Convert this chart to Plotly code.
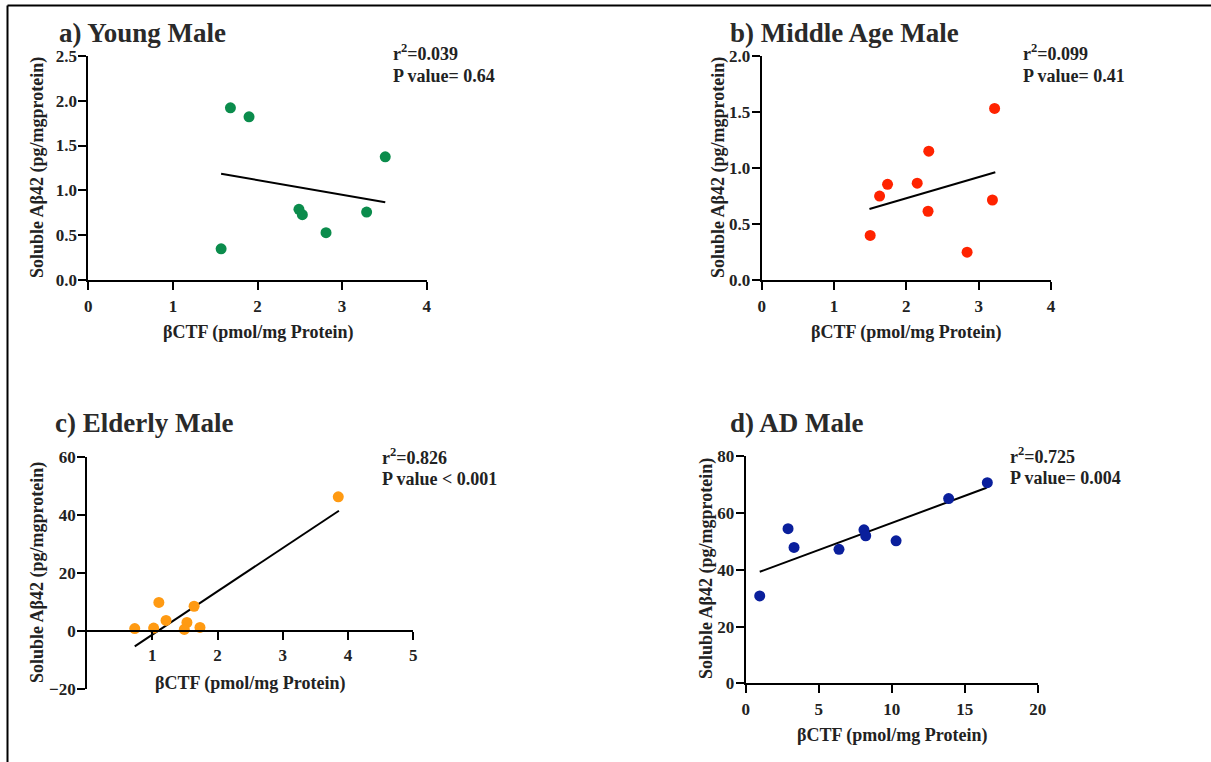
import plotly.graph_objects as go

W, H = 1211, 762

# ---------------- data ----------------
titles = ["a) Young Male", "b) Middle Age Male", "c) Elderly Male", "d) AD Male"]
stats_r2 = ["0.039", "0.099", "0.826", "0.725"]
stats_p = ["P value= 0.64", "P value= 0.41", "P value < 0.001", "P value= 0.004"]

young_x = [1.68, 1.90, 3.51, 2.49, 2.53, 3.29, 2.81, 1.57]
young_y = [1.92, 1.82, 1.375, 0.79, 0.73, 0.76, 0.53, 0.35]
young_fit_x = [1.57, 3.51]
young_fit_y = [1.186, 0.868]

middle_x = [3.22, 2.31, 1.74, 1.63, 2.15, 2.30, 3.19, 1.50, 2.84]
middle_y = [1.53, 1.15, 0.855, 0.75, 0.865, 0.615, 0.715, 0.40, 0.25]
middle_fit_x = [1.49, 3.23]
middle_fit_y = [0.635, 0.962]

elderly_x = [3.85, 1.10, 1.64, 1.21, 1.53, 0.73, 1.02, 1.49, 1.73]
elderly_y = [46.3, 9.9, 8.6, 3.7, 3.0, 0.9, 1.1, 0.6, 1.3]
elderly_fit_x = [0.73, 3.86]
elderly_fit_y = [-5.2, 41.5]

ad_x = [16.55, 13.9, 2.9, 8.1, 8.22, 10.3, 3.31, 6.39, 0.96]
ad_y = [70.7, 65.1, 54.5, 54.1, 52.0, 50.2, 47.9, 47.2, 30.8]
ad_fit_x = [0.96, 16.5]
ad_fit_y = [39.3, 68.9]

x_label = "βCTF (pmol/mg Protein)"
y_label = "Soluble Aβ42 (pg/mgprotein)"

# ---------------- layout helpers ----------------
def px(x):
    return x / W

def py(y):
    return 1 - y / H

FONT = "Liberation Serif"
TXT = "#222222"

panels = [
    dict(x=young_x, y=young_y, fx=young_fit_x, fy=young_fit_y, color="#0b8c4c",
         xd=(88.3, 426.7), yd=(55.7, 280.3), xr=[0, 4], yr=[0, 2.5],
         xt=[0, 1, 2, 3, 4], yt=[0, 0.5, 1.0, 1.5, 2.0, 2.5], yfmt=".1f", xaxis_at=None,
         title_pos=(57, 33), stat_pos=(391, 53), xlab=(258, 332), ylab=(37, 168)),
    dict(x=middle_x, y=middle_y, fx=middle_fit_x, fy=middle_fit_y, color="#ff2300",
         xd=(761.7, 1051), yd=(55.7, 280.3), xr=[0, 4], yr=[0, 2.0],
         xt=[0, 1, 2, 3, 4], yt=[0, 0.5, 1.0, 1.5, 2.0], yfmt=".1f", xaxis_at=None,
         title_pos=(728, 33), stat_pos=(1021, 53), xlab=(906, 332), ylab=(718, 168)),
    dict(x=elderly_x, y=elderly_y, fx=elderly_fit_x, fy=elderly_fit_y, color="#ff9a12",
         xd=(87.1, 413.3), yd=(457, 689.3), xr=[0, 5], yr=[-20, 60],
         xt=[1, 2, 3, 4, 5], yt=[-20, 0, 20, 40, 60], yfmt="d", xaxis_at=631,
         title_pos=(53, 423), stat_pos=(380, 456), xlab=(250, 683), ylab=(37, 573)),
    dict(x=ad_x, y=ad_y, fx=ad_fit_x, fy=ad_fit_y, color="#0a1f9c",
         xd=(745.7, 1037.7), yd=(456.3, 683.3), xr=[0, 20], yr=[0, 80],
         xt=[0, 5, 10, 15, 20], yt=[0, 20, 40, 60, 80], yfmt="d", xaxis_at=None,
         title_pos=(728, 423), stat_pos=(1008, 455), xlab=(892, 735), ylab=(706, 569)),
]

fig = go.Figure()
annotations = []
layout = dict(
    width=W, height=H, margin=dict(l=0, r=0, t=0, b=0, pad=0, autoexpand=False),
    paper_bgcolor="white", plot_bgcolor="white", showlegend=False,
    font=dict(family=FONT, color=TXT, size=16),
)

for i, p in enumerate(panels, start=1):
    xa = "x" if i == 1 else f"x{i}"
    ya = "y" if i == 1 else f"y{i}"
    fig.add_trace(go.Scatter(x=p["fx"], y=p["fy"], mode="lines", xaxis=xa, yaxis=ya,
                             line=dict(color="black", width=2), hoverinfo="skip"))
    fig.add_trace(go.Scatter(x=p["x"], y=p["y"], mode="markers", xaxis=xa, yaxis=ya,
                             marker=dict(color=p["color"], size=11, line=dict(width=0))))
    xkey = "xaxis" if i == 1 else f"xaxis{i}"
    ykey = "yaxis" if i == 1 else f"yaxis{i}"
    xaxis = dict(domain=[px(p["xd"][0]), px(p["xd"][1])], range=p["xr"], automargin=False,
                 tickvals=p["xt"], ticks="outside", ticklen=8, tickwidth=2, tickcolor="black",
                 showline=True, linewidth=2, linecolor="black", showgrid=False, zeroline=False,
                 tickfont=dict(family=FONT, size=17, color=TXT, weight="bold"),
                 ticklabelstandoff=1, fixedrange=True)
    if p["xaxis_at"] is not None:
        xaxis.update(anchor="free", position=py(p["xaxis_at"]))
    else:
        xaxis.update(anchor=ya)
    yaxis = dict(domain=[py(p["yd"][1]), py(p["yd"][0])], range=p["yr"], anchor=xa,
                 automargin=False,
                 tickvals=p["yt"], tickformat=p["yfmt"], ticks="outside", ticklen=8, tickwidth=2,
                 tickcolor="black", showline=True, linewidth=2, linecolor="black",
                 showgrid=False, zeroline=False,
                 tickfont=dict(family=FONT, size=17, color=TXT, weight="bold"),
                 ticklabelstandoff=-2, fixedrange=True)
    layout[xkey] = xaxis
    layout[ykey] = yaxis

    annotations.append(dict(text=titles[i - 1], x=px(p["title_pos"][0]), y=py(p["title_pos"][1]),
                            xref="paper", yref="paper", xanchor="left", yanchor="middle",
                            showarrow=False,
                            font=dict(family=FONT, size=27, color="#2a2a2a", weight="bold")))
    annotations.append(dict(text=f"r<sup>2</sup>={stats_r2[i-1]}", x=px(p["stat_pos"][0]),
                            y=py(p["stat_pos"][1]), xref="paper", yref="paper",
                            xanchor="left", yanchor="middle", showarrow=False,
                            font=dict(family=FONT, size=18, color=TXT, weight="bold")))
    annotations.append(dict(text=stats_p[i - 1], x=px(p["stat_pos"][0]),
                            y=py(p["stat_pos"][1] + 23), xref="paper", yref="paper",
                            xanchor="left", yanchor="middle", showarrow=False,
                            font=dict(family=FONT, size=18, color=TXT, weight="bold")))
    annotations.append(dict(text=x_label, x=px(p["xlab"][0]), y=py(p["xlab"][1]),
                            xref="paper", yref="paper", xanchor="center", yanchor="middle",
                            showarrow=False,
                            font=dict(family=FONT, size=18, color=TXT, weight="bold")))
    annotations.append(dict(text=y_label, x=px(p["ylab"][0]), y=py(p["ylab"][1]),
                            xref="paper", yref="paper", xanchor="center", yanchor="middle",
                            textangle=-90, showarrow=False,
                            font=dict(family=FONT, size=18, color=TXT, weight="bold")))

layout["annotations"] = annotations
layout["shapes"] = [
    dict(type="line", xref="paper", yref="paper", x0=px(7.5), x1=1, y0=py(5.5), y1=py(5.5),
         line=dict(color="black", width=2)),
    dict(type="line", xref="paper", yref="paper", x0=px(7.5), x1=px(7.5), y0=py(5.5), y1=0,
         line=dict(color="black", width=2)),
]
fig.update_layout(**layout)
post = (
    "document.documentElement.style.margin='0';document.body.style.margin='0';"
    "document.body.style.overflow='hidden';"
)
fig.write_html("out.html", post_script=post)
